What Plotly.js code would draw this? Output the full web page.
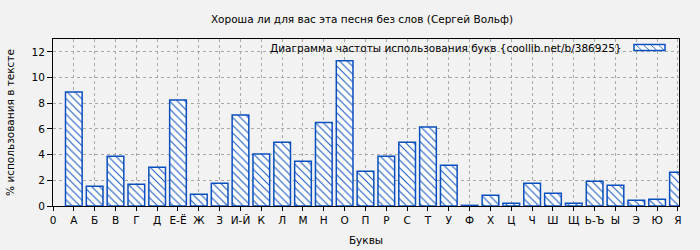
<!DOCTYPE html>
<html>
<head>
<meta charset="utf-8">
<script src="https://cdn.plot.ly/plotly-3.0.1.min.js"></script>
<style>html,body{margin:0;padding:0;background:#f2f2f2;}#chart{width:700px;height:250px;}</style>
</head>
<body>
<div id="chart"></div>
<script>
const tickLabels = ['0','А','Б','В','Г','Д','Е-Ё','Ж','З','И-Й','К','Л','М','Н','О','П','Р','С','Т','У','Ф','Х','Ц','Ч','Ш','Щ','Ь-Ъ','Ы','Э','Ю','Я'];
const letters = tickLabels.slice(1);
const values = [8.88,1.54,3.88,1.69,3.02,8.25,0.91,1.77,7.08,4.04,4.97,3.49,6.5,11.3,2.71,3.88,4.97,6.14,3.18,0.05,0.83,0.21,1.77,0.99,0.21,1.93,1.62,0.44,0.52,2.63];
const chartTitle = 'Хороша ли для вас эта песня без слов (Сергей Вольф)';
const legendText = 'Диаграмма частоты использования букв {coollib.net/b/386925}';
const xTitle = 'Буквы';
const yTitle = '% использования в тексте';

const blue = '#0a4fbf';
const M = {l:53, r:21, t:39, b:44};
const W = 700, H = 250;
const pw = W - M.l - M.r, ph = H - M.t - M.b;
const px = x => (x - M.l) / pw;
const py = y => (H - M.b - y) / ph;

const xPos = letters.map((_, i) => i + 1);
const tickVals = tickLabels.map((_, i) => i);

const shapes = [{
  type:'rect', xref:'paper', yref:'paper',
  x0:px(634), x1:px(665), y0:py(50.5), y1:py(44.5),
  line:{color:blue, width:1.5}, fillcolor:'white'
}];
[636, 643.5, 651, 658.5].forEach(s => {
  shapes.push({type:'line', xref:'paper', yref:'paper',
    x0:px(s), y0:py(45), x1:px(s+5.5), y1:py(50), line:{color:blue, width:0.8}});
});

const data = [{
  type:'bar', x:xPos, y:values, width:0.8,
  marker:{color:'white', line:{color:blue, width:1.5},
    pattern:{shape:'\\', fgcolor:blue, bgcolor:'white', size:5.5, solidity:0.18}},
  showlegend:false, hoverinfo:'skip'
}];

const font = {family:'DejaVu Sans, sans-serif', size:10.5, color:'#000'};
const layout = {
  width:W, height:H, margin:M,
  paper_bgcolor:'#f2f2f2', plot_bgcolor:'#f2f2f2',
  font:font,
  title:{text:chartTitle, x:362/W, xanchor:'center', y:1-19/H, yanchor:'middle', font:font},
  xaxis:{range:[0,30.05], tickvals:tickVals, ticktext:tickLabels, tickangle:0,
    showgrid:true, gridcolor:'#a8a8a8', griddash:'dot', gridwidth:1,
    showline:true, mirror:true, linecolor:'#000', linewidth:1,
    ticks:'outside', ticklen:4, tickcolor:'#000', zeroline:false,
    title:{text:xTitle, standoff:12, font:font}},
  yaxis:{range:[0,13], tickvals:[0,2,4,6,8,10,12],
    showgrid:true, gridcolor:'#a8a8a8', griddash:'dot', gridwidth:1,
    showline:true, mirror:true, linecolor:'#000', linewidth:1,
    ticks:'outside', ticklen:5, tickcolor:'#000', zeroline:false,
    title:{text:yTitle, standoff:14, font:font}},
  annotations:[{text:legendText, xref:'paper', yref:'paper', x:px(624), y:py(47.5),
    xanchor:'right', yanchor:'middle', showarrow:false, font:font}],
  shapes:shapes,
  bargap:0.2
};
Plotly.newPlot('chart', data, layout, {staticPlot:true});
</script>
</body>
</html>
